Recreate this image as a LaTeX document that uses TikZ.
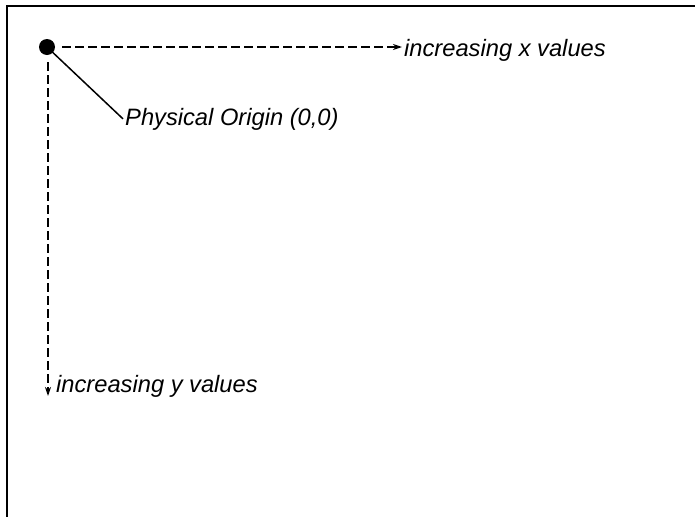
\documentclass[tikz,border=0pt]{standalone}
\usepackage{fontspec}
\setmainfont{Liberation Sans}
\usetikzlibrary{arrows.meta}
\begin{document}
\begin{tikzpicture}[x=1pt,y=-1pt,
  lab/.style={inner sep=2pt,anchor=base west,font=\fontsize{23.7}{28}\selectfont\itshape},
  axis/.style={line width=1.4pt,dash pattern=on 9pt off 4pt,-{Stealth[length=9pt,width=6pt]}},
  frame/.style={line width=2pt}]
\useasboundingbox (0,0) rectangle (695,517);
\draw[frame] (695,6) -- (7,6) -- (7,517);
\node[circle,fill=black,inner sep=0pt,minimum size=16pt] (origin) at (47,47) {};
\node[lab] (xlab) at (402,56) {increasing x values};
\node[lab] (ylab) at (54,392) {increasing y values};
\node[lab] (phys) at (123,125) {Physical Origin (0,0)};
\coordinate (xs) at (62,47);
\coordinate (ys) at (48,62);
\coordinate (yt) at (48,396);
\draw[axis] (xs) -- (xlab.west |- xs);
\draw[axis] (ys) -- (yt);
\draw[line width=1.5pt] (origin.center) -- (phys.west);
\end{tikzpicture}
\end{document}
